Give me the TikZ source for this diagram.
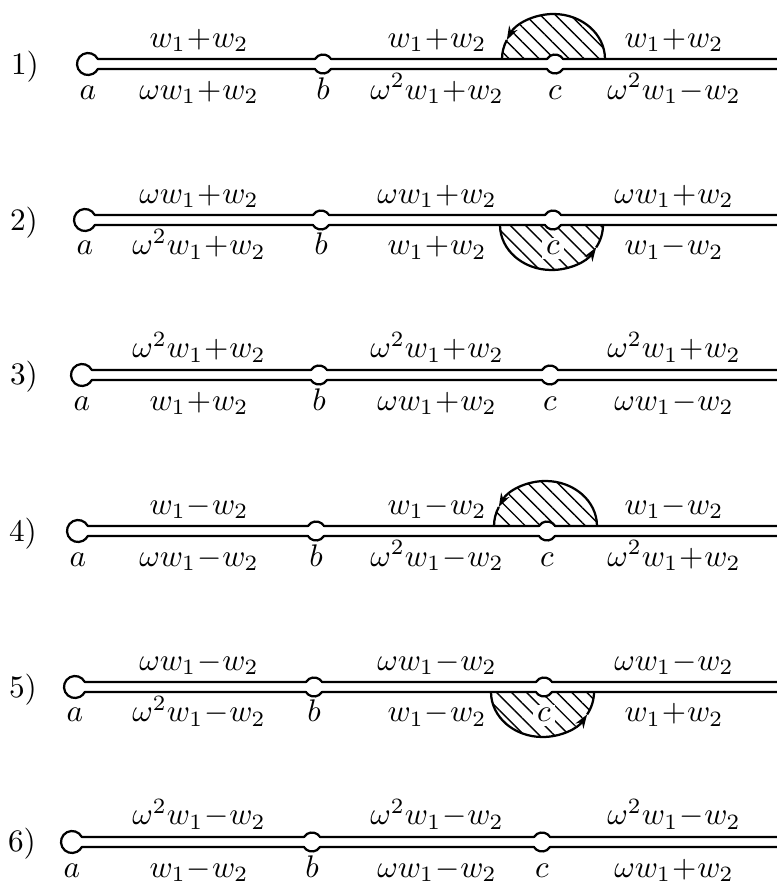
\documentclass[tikz,border=0pt]{standalone}
\usepackage{amsmath}
\usetikzlibrary{patterns.meta,arrows.meta,calc}
\newcommand{\pl}{\mskip0.5mu{+}\mskip0.5mu}
\newcommand{\mi}{\mskip0.5mu{-}\mskip0.5mu}
\tikzset{
  wire/.style={line width=0.72pt, line join=round},
  lab/.style={anchor=base, inner sep=0pt},
  clab/.style={anchor=base, inner sep=1.2pt, fill=white},
  hatch/.style={pattern={Lines[angle=-45,distance=3.4pt,line width=0.45pt]}},
  arr/.style={-{Stealth[length=4.4pt,width=3pt]}},
}
% #1 suffix, #2 a-x, #3 b-x, #4 c-x
\newcommand{\cable}[4]{%
  \coordinate (a#1) at (#2,0);
  \coordinate (b#1) at (#3,0);
  \coordinate (c#1) at (#4,0);
  \coordinate (e#1) at (777,0);
  \draw[wire] ($(e#1)+(0,5)$) -- ($(c#1)+(31.76:9.5)$)
    arc[start angle=31.76,end angle=148.24,radius=9.5]
    -- ($(b#1)+(31.76:9.5)$)
    arc[start angle=31.76,end angle=148.24,radius=9.5]
    -- ($(a#1)+(27.04:11)$)
    arc[start angle=27.04,end angle=332.96,radius=11]
    -- ($(b#1)+(-148.24:9.5)$)
    arc[start angle=-148.24,end angle=-31.76,radius=9.5]
    -- ($(c#1)+(-148.24:9.5)$)
    arc[start angle=-148.24,end angle=-31.76,radius=9.5]
    -- ($(e#1)+(0,-5)$);
}
\begin{document}
\begin{tikzpicture}[x=0.32pt,y=0.32pt]
\useasboundingbox (0,0) rectangle (777,887);

% ---------- row 1
\begin{scope}[shift={(0,823)}]
  \fill[hatch] (605,5) arc[start angle=0,end angle=180,x radius=51.5,y radius=45] -- cycle;
  \fill[white] (555,0) circle[radius=9.5];
  \cable{1}{88}{323}{555}
  \draw[wire,arr] (605,5) arc[start angle=0,end angle=155,x radius=51.5,y radius=45] coordinate (h1);
  \draw[wire] (h1) arc[start angle=155,end angle=180,x radius=51.5,y radius=45];
  \node[lab] (n1) at (25,-10) {1)};
  \node[lab] at (199,17) {$w_1\pl w_2$};
  \node[lab] at (437,17) {$w_1\pl w_2$};
  \node[lab] at (674,17) {$w_1\pl w_2$};
  \node[lab] (la1) at (88,-35) {$a$};
  \node[lab] (lb1) at (323,-35) {$b$};
  \node[lab] (lc1) at (555,-35) {$c$};
  \node[lab] at (199,-35) {$\omega w_1\pl w_2$};
  \node[lab] at (437,-35) {$\omega^2 w_1\pl w_2$};
  \node[lab] at (674,-35) {$\omega^2 w_1\mi w_2$};
\end{scope}

% ---------- row 2
\begin{scope}[shift={(0,667)}]
  \fill[hatch] (500,-5) arc[start angle=180,end angle=360,x radius=51.5,y radius=45] -- cycle;
  \fill[white] (553,0) circle[radius=9.5];
  \cable{2}{85}{321}{553}
  \draw[wire,arr] (500,-5) arc[start angle=180,end angle=330,x radius=51.5,y radius=45] coordinate (h2);
  \draw[wire] (h2) arc[start angle=330,end angle=360,x radius=51.5,y radius=45];
  \node[lab] (n2) at (24,-10) {2)};
  \node[lab] at (199,17) {$\omega w_1\pl w_2$};
  \node[lab] at (437,17) {$\omega w_1\pl w_2$};
  \node[lab] at (674,17) {$\omega w_1\pl w_2$};
  \node[lab] (la2) at (85,-35) {$a$};
  \node[lab] (lb2) at (321,-35) {$b$};
  \node[clab] (lc2) at (553,-35) {$c$};
  \node[lab] at (199,-35) {$\omega^2 w_1\pl w_2$};
  \node[lab] at (437,-35) {$w_1\pl w_2$};
  \node[lab] at (674,-35) {$w_1\mi w_2$};
\end{scope}

% ---------- row 3
\begin{scope}[shift={(0,512)}]
  \cable{3}{82}{319}{550}
  \node[lab] (n3) at (24,-10) {3)};
  \node[lab] at (199,17) {$\omega^2 w_1\pl w_2$};
  \node[lab] at (437,17) {$\omega^2 w_1\pl w_2$};
  \node[lab] at (674,17) {$\omega^2 w_1\pl w_2$};
  \node[lab] (la3) at (82,-35) {$a$};
  \node[lab] (lb3) at (319,-35) {$b$};
  \node[lab] (lc3) at (550,-35) {$c$};
  \node[lab] at (199,-35) {$w_1\pl w_2$};
  \node[lab] at (437,-35) {$\omega w_1\pl w_2$};
  \node[lab] at (674,-35) {$\omega w_1\mi w_2$};
\end{scope}

% ---------- row 4
\begin{scope}[shift={(0,356)}]
  \fill[hatch] (597,5) arc[start angle=0,end angle=180,x radius=51.5,y radius=45] -- cycle;
  \fill[white] (547,0) circle[radius=9.5];
  \cable{4}{78}{316}{547}
  \draw[wire,arr] (597,5) arc[start angle=0,end angle=155,x radius=51.5,y radius=45] coordinate (h4);
  \draw[wire] (h4) arc[start angle=155,end angle=180,x radius=51.5,y radius=45];
  \node[lab] (n4) at (23,-10) {4)};
  \node[lab] at (199,17) {$w_1\mi w_2$};
  \node[lab] at (437,17) {$w_1\mi w_2$};
  \node[lab] at (674,17) {$w_1\mi w_2$};
  \node[lab] (la4) at (78,-35) {$a$};
  \node[lab] (lb4) at (316,-35) {$b$};
  \node[lab] (lc4) at (547,-35) {$c$};
  \node[lab] at (199,-35) {$\omega w_1\mi w_2$};
  \node[lab] at (437,-35) {$\omega^2 w_1\mi w_2$};
  \node[lab] at (674,-35) {$\omega^2 w_1\pl w_2$};
\end{scope}

% ---------- row 5
\begin{scope}[shift={(0,200)}]
  \fill[hatch] (491,-5) arc[start angle=180,end angle=360,x radius=51.5,y radius=45] -- cycle;
  \fill[white] (544,0) circle[radius=9.5];
  \cable{5}{75}{314}{544}
  \draw[wire,arr] (491,-5) arc[start angle=180,end angle=330,x radius=51.5,y radius=45] coordinate (h5);
  \draw[wire] (h5) arc[start angle=330,end angle=360,x radius=51.5,y radius=45];
  \node[lab] (n5) at (23,-10) {5)};
  \node[lab] at (199,17) {$\omega w_1\mi w_2$};
  \node[lab] at (437,17) {$\omega w_1\mi w_2$};
  \node[lab] at (674,17) {$\omega w_1\mi w_2$};
  \node[lab] (la5) at (75,-35) {$a$};
  \node[lab] (lb5) at (314,-35) {$b$};
  \node[clab] (lc5) at (544,-35) {$c$};
  \node[lab] at (199,-35) {$\omega^2 w_1\mi w_2$};
  \node[lab] at (437,-35) {$w_1\mi w_2$};
  \node[lab] at (674,-35) {$w_1\pl w_2$};
\end{scope}

% ---------- row 6
\begin{scope}[shift={(0,45)}]
  \cable{6}{72}{312}{542}
  \node[lab] (n6) at (22,-10) {6)};
  \node[lab] at (199,17) {$\omega^2 w_1\mi w_2$};
  \node[lab] at (437,17) {$\omega^2 w_1\mi w_2$};
  \node[lab] at (674,17) {$\omega^2 w_1\mi w_2$};
  \node[lab] (la6) at (72,-35) {$a$};
  \node[lab] (lb6) at (312,-35) {$b$};
  \node[lab] (lc6) at (542,-35) {$c$};
  \node[lab] at (199,-35) {$w_1\mi w_2$};
  \node[lab] at (437,-35) {$\omega w_1\mi w_2$};
  \node[lab] at (674,-35) {$\omega w_1\pl w_2$};
\end{scope}
\end{tikzpicture}
\end{document}
